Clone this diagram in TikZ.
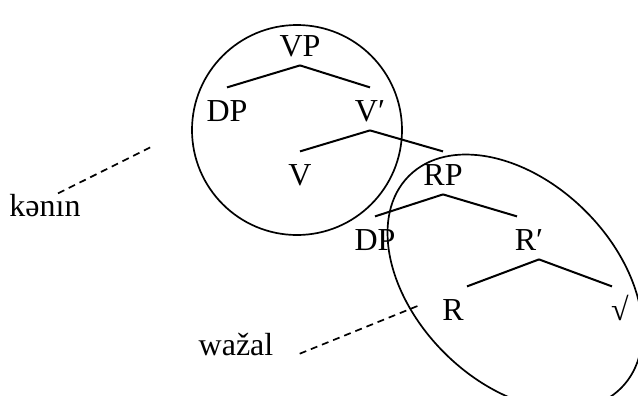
\documentclass[tikz,border=0pt]{standalone}
\usepackage{fontspec}
\setmainfont{Liberation Serif}
\usetikzlibrary{calc}

\begin{document}
\begin{tikzpicture}[x=0.5pt,y=-0.5pt,
  cat/.style={anchor=base, inner sep=2pt, text height=14.6pt, text depth=2.5pt, font=\fontsize{16}{19}\selectfont},
  word/.style={anchor=base, inner sep=0pt, font=\fontsize{16}{19}\selectfont},
  branch/.style={line width=1pt},
  dashline/.style={line width=0.85pt, dash pattern=on 3.5pt off 2.5pt}]
  \useasboundingbox (0,0) rectangle (638,396);

  \node[cat] (vp) at (300,56) {VP};
  \node[cat] (dpa) at (227,121) {DP};
  \node[cat] (vbar) at (370,121) {V′};
  \node[cat] (v) at (300,185) {V};
  \node[cat] (rp) at (443,185) {RP};
  \node[cat] (dpb) at (375,250) {DP};
  \node[cat] (rbar) at (529,250) {R′};
  \node[cat] (r) at (453,320) {R};
  \node[cat] (root) at (620,320) {√};

  \node[word] (kenin) at (45,216) {kənın};
  \node[word] (wazal) at (236,355) {wažal};
  \coordinate (kentip) at (153,146);
  \coordinate (wazaltip) at (420,305);

  \path[branch] (vp.south) edge (dpa.north);
  \path[branch] (vp.south) edge (vbar.north);
  \path[branch] (vbar.south) edge (v.north);
  \path[branch] (vbar.south) edge (rp.north);
  \path[branch] (rp.south) edge (dpb.north);
  \path[branch] (rp.south) edge ([xshift=-6pt]rbar.north);
  \path[branch] ([xshift=5pt]rbar.south) edge ([xshift=7pt]r.north);
  \path[branch] ([xshift=5pt]rbar.south) edge ([xshift=-4pt]root.north);

  % domains
  \draw[line width=0.85pt] (297,130) circle (52.5pt);
  \draw[line width=0.85pt, rotate around={-45:(515,282)}] (515,282) ellipse (75pt and 50pt);

  \draw[dashline] ([xshift=6.5pt]kenin.north) -- (kentip);
  \draw[dashline] ([xshift=13pt,yshift=1pt]wazal.south east) -- (wazaltip);
\end{tikzpicture}
\end{document}
